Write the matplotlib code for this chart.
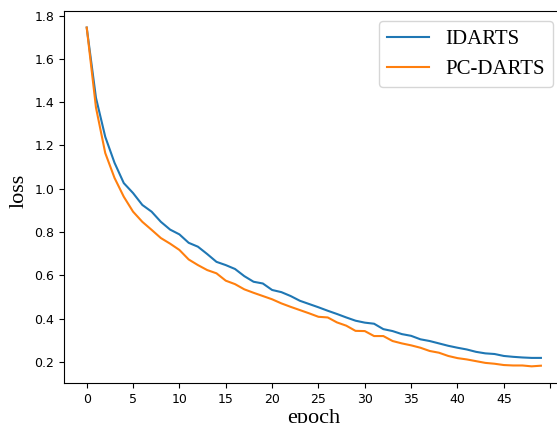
import numpy as np
import matplotlib.pyplot as plt

# loss per epoch
epoch = np.arange(50)
idarts = [1.745, 1.42, 1.24, 1.12, 1.026, 0.98, 0.925, 0.894, 0.847, 0.811,
          0.789, 0.75, 0.732, 0.698, 0.662, 0.647, 0.629, 0.596, 0.57, 0.562,
          0.532, 0.522, 0.504, 0.482, 0.467, 0.452, 0.436, 0.421, 0.405, 0.39,
          0.381, 0.376, 0.351, 0.342, 0.328, 0.32, 0.304, 0.296, 0.285, 0.274,
          0.265, 0.257, 0.246, 0.239, 0.236, 0.227, 0.223, 0.22, 0.218, 0.218]
pcdarts = [1.745, 1.375, 1.165, 1.05, 0.963, 0.894, 0.847, 0.81, 0.772, 0.746,
           0.717, 0.673, 0.647, 0.624, 0.609, 0.575, 0.559, 0.535, 0.519, 0.504,
           0.489, 0.47, 0.454, 0.439, 0.424, 0.408, 0.405, 0.382, 0.367, 0.343,
           0.342, 0.319, 0.319, 0.296, 0.285, 0.276, 0.265, 0.25, 0.242, 0.227,
           0.217, 0.211, 0.203, 0.195, 0.191, 0.185, 0.183, 0.183, 0.179, 0.182]

fig = plt.figure(figsize=(5.57, 4.23), dpi=100)
# axes run past the right edge, as in the cropped original
ax = fig.add_axes([0.1149, 0.0939, 0.897, 0.881])

ax.plot(epoch, idarts, label='IDARTS')
ax.plot(epoch, pcdarts, label='PC-DARTS')

ax.set_xticks(range(0, 51, 5))
ax.set_xticklabels([str(t) for t in range(0, 46, 5)] + [''])
ax.tick_params(labelsize=9)

ax.set_xlabel('epoch', family='Liberation Serif', fontsize=16, labelpad=2)
ax.set_ylabel('loss', family='Liberation Serif', fontsize=16, y=0.515)

ax.legend(loc='upper right', prop={'family': 'Liberation Serif', 'size': 15})

fig.savefig('out.png', dpi=100)
